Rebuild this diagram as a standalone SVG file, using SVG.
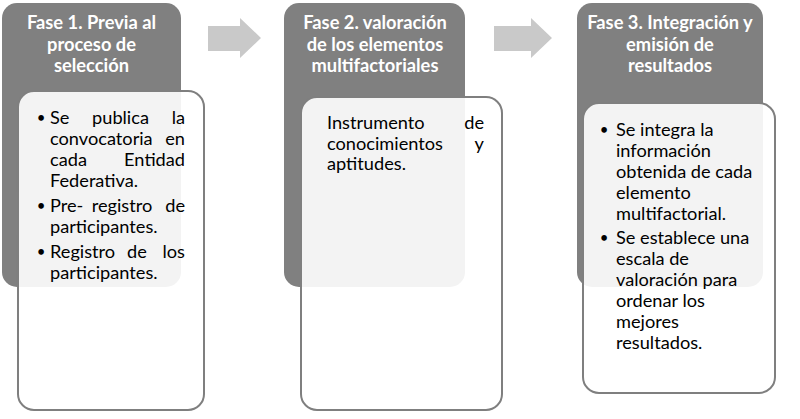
<svg xmlns="http://www.w3.org/2000/svg" width="800" height="419" viewBox="0 0 800 419">
<style>
.dark{fill:#808080;}
.card{fill:#ffffff;fill-opacity:0.9;stroke:#7f7f7f;stroke-width:2;}
.arrow{fill:#c9c9c9;}
.hd{font-family:Lato,"Open Sans",sans-serif;font-weight:bold;font-size:18.3px;fill:#ffffff;text-anchor:middle;}
.tx{font-family:Lato,"Open Sans",sans-serif;font-size:18.2px;fill:#000000;}
.e{text-anchor:end;}
.m{text-anchor:middle;}
.b{text-anchor:middle;font-size:15px;}
</style>
<rect width="800" height="419" fill="#ffffff"/>
<g id="connectors">
<polygon class="arrow" points="208,26 240,26 240,18 261,38 240,58 240,51 208,51"/>
<polygon class="arrow" points="494,26 531,26 531,18 552,38 531,58 531,51 494,51"/>
</g>
<g id="fase1">
<rect class="dark" x="2" y="3" width="179" height="284" rx="15"/>
<text class="hd" x="91.5" y="29">Fase 1. Previa al</text>
<text class="hd" x="91.5" y="50.5">proceso de</text>
<text class="hd" x="91.5" y="72">selección</text>
<rect class="card" x="18" y="91" width="186" height="319" rx="16"/>
<g class="tx">
<text class="b" x="41" y="123">•</text>
<text x="50" y="124">Se</text><text class="m" x="120.5" y="124">publica</text><text class="e" x="185" y="124">la</text>
<text x="50" y="145">convocatoria</text><text class="e" x="185" y="145">en</text>
<text x="50" y="166">cada</text><text class="e" x="185" y="166">Entidad</text>
<text x="50" y="187">Federativa.</text>
<text class="b" x="41" y="211">•</text>
<text x="50" y="212">Pre-</text><text class="m" x="122" y="212">registro</text><text class="e" x="185" y="212">de</text>
<text x="50" y="233">participantes.</text>
<text class="b" x="41" y="257">•</text>
<text x="50" y="258">Registro</text><text class="m" x="137" y="258">de</text><text class="e" x="185" y="258">los</text>
<text x="50" y="279">participantes.</text>
</g>
</g>
<g id="fase2">
<rect class="dark" x="284" y="3" width="181" height="284" rx="15"/>
<text class="hd" x="375" y="29">Fase 2. valoración</text>
<text class="hd" x="375" y="50.5">de los elementos</text>
<text class="hd" x="375" y="72">multifactoriales</text>
<rect class="card" x="301" y="97" width="201" height="313" rx="16"/>
<g class="tx">
<text x="327" y="129">Instrumento</text><text class="e" x="484" y="129">de</text>
<text x="327" y="150">conocimientos</text><text class="e" x="484" y="150">y</text>
<text x="327" y="170">aptitudes.</text>
</g>
</g>
<g id="fase3">
<rect class="dark" x="577" y="3" width="186" height="284" rx="15"/>
<text class="hd" x="670" y="29">Fase 3. Integración y</text>
<text class="hd" x="670" y="50.5">emisión de</text>
<text class="hd" x="670" y="72">resultados</text>
<rect class="card" x="583" y="103" width="192" height="290" rx="16"/>
<g class="tx">
<text class="b" x="604" y="135">•</text>
<text x="616" y="136">Se integra la</text>
<text x="616" y="157">información</text>
<text x="616" y="178">obtenida de cada</text>
<text x="616" y="199">elemento</text>
<text x="616" y="220">multifactorial.</text>
<text class="b" x="604" y="243">•</text>
<text x="616" y="244">Se establece una</text>
<text x="616" y="265">escala de</text>
<text x="616" y="286">valoración para</text>
<text x="616" y="307">ordenar los</text>
<text x="616" y="328">mejores</text>
<text x="616" y="349">resultados.</text>
</g>
</g>
</svg>
